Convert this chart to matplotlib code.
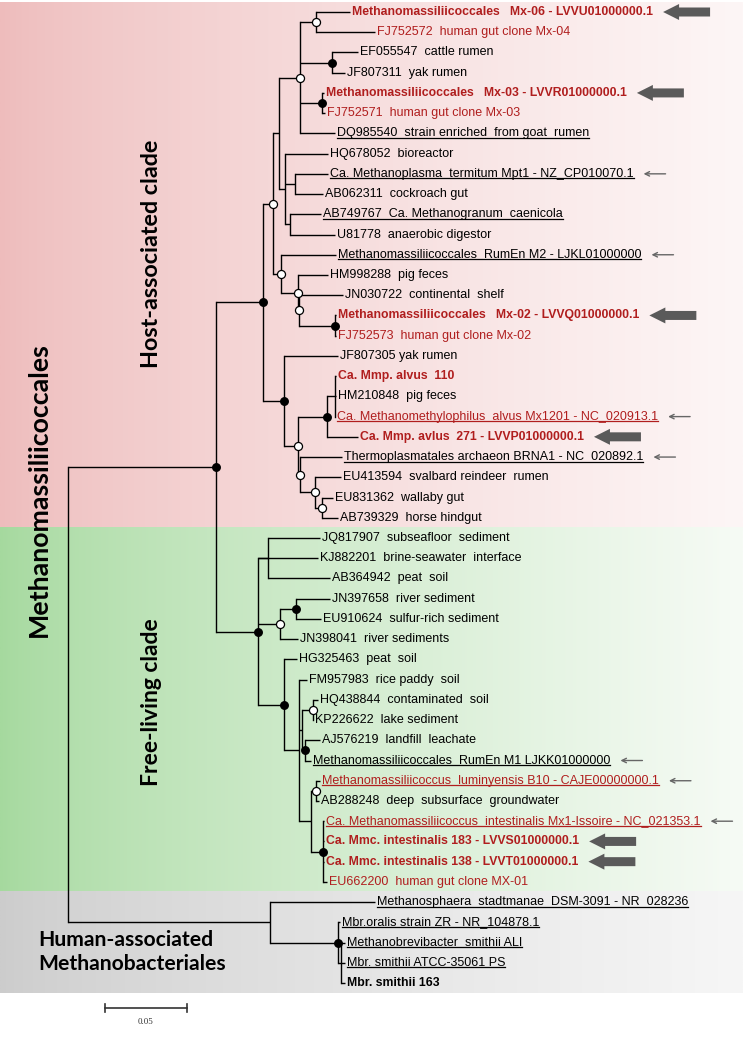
import numpy as np
import matplotlib.pyplot as plt
from matplotlib.patches import FancyArrow
from matplotlib.colors import to_rgb

# --- Листья дерева: подпись, расстояние от корня (замен на сайт), родитель ---
leaf_labels = [
    "Methanomassiliicoccales   Mx-06 - LVVU01000000.1",
    "FJ752572  human gut clone Mx-04",
    "EF055547  cattle rumen",
    "JF807311  yak rumen",
    "Methanomassiliicoccales   Mx-03 - LVVR01000000.1",
    "FJ752571  human gut clone Mx-03",
    "DQ985540  strain enriched  from goat  rumen",
    "HQ678052  bioreactor",
    "Ca. Methanoplasma  termitum Mpt1 - NZ_CP010070.1",
    "AB062311  cockroach gut",
    "AB749767  Ca. Methanogranum  caenicola",
    "U81778  anaerobic digestor",
    "Methanomassiliicoccales  RumEn M2 - LJKL01000000",
    "HM998288  pig feces",
    "JN030722  continental  shelf",
    "Methanomassiliicoccales   Mx-02 - LVVQ01000000.1",
    "FJ752573  human gut clone Mx-02",
    "JF807305 yak rumen",
    "Ca. Mmp. alvus  110",
    "HM210848  pig feces",
    "Ca. Methanomethylophilus  alvus Mx1201 - NC_020913.1",
    "Ca. Mmp. avlus  271 - LVVP01000000.1",
    "Thermoplasmatales archaeon BRNA1 - NC_020892.1",
    "EU413594  svalbard reindeer  rumen",
    "EU831362  wallaby gut",
    "AB739329  horse hindgut",
    "JQ817907  subseafloor  sediment",
    "KJ882201  brine-seawater  interface",
    "AB364942  peat  soil",
    "JN397658  river sediment",
    "EU910624  sulfur-rich sediment",
    "JN398041  river sediments",
    "HG325463  peat  soil",
    "FM957983  rice paddy  soil",
    "HQ438844  contaminated  soil",
    "KP226622  lake sediment",
    "AJ576219  landfill  leachate",
    "Methanomassiliicoccales  RumEn M1 LJKK01000000",
    "Methanomassiliicoccus  luminyensis B10 - CAJE00000000.1",
    "AB288248  deep  subsurface  groundwater",
    "Ca. Methanomassiliicoccus  intestinalis Mx1-Issoire - NC_021353.1",
    "Ca. Mmc. intestinalis 183 - LVVS01000000.1",
    "Ca. Mmc. intestinalis 138 - LVVT01000000.1",
    "EU662200  human gut clone MX-01",
    "Methanosphaera  stadtmanae  DSM-3091 - NR_028236",
    "Mbr.oralis strain ZR - NR_104878.1",
    "Methanobrevibacter  smithii ALI",
    "Mbr. smithii ATCC-35061 PS",
    "Mbr. smithii 163",
]
leaf_depth = [
    0.1720, 0.1872, 0.1768, 0.1689, 0.1561, 0.1567, 0.1628, 0.1585, 0.1585, 0.1555,
    0.1543, 0.1628, 0.1634, 0.1585, 0.1677, 0.1634, 0.1634, 0.1646, 0.1634, 0.1634,
    0.1628, 0.1768, 0.1671, 0.1665, 0.1616, 0.1646, 0.1537, 0.1524, 0.1598, 0.1598,
    0.1543, 0.1402, 0.1396, 0.1457, 0.1524, 0.1494, 0.1537, 0.1482, 0.1537, 0.1530,
    0.1561, 0.1561, 0.1561, 0.1579, 0.1872, 0.1659, 0.1689, 0.1689, 0.1689,
]
leaf_parent = [
    'S', 'S', 'T', 'T', 'U', 'U', 'Q', 'R', 'V', 'V', 'W', 'W', 'D', 'E', 'G', 'H', 'H',
    'I', 'P', 'P', 'P', 'K', 'L', 'M', 'N', 'N', 'X', 'FL', 'X', 'BB', 'BB', 'AA', 'Z',
    'DD', 'OO', 'OO', 'CC', 'CC', 'FF', 'FF', 'GG', 'GG', 'GG', 'GG', 'mbac', 'mbr',
    'JJ', 'JJ', 'JJ',
]
# стиль подписи: n - обычный, u - подчёркнутый, b - жирный, r - красный
leaf_style = [
    'rb', 'r', 'n', 'n', 'rb', 'r', 'u', 'n', 'u', 'n', 'u', 'n', 'u', 'n', 'n', 'rb', 'r',
    'n', 'rb', 'n', 'ru', 'rb', 'u', 'n', 'n', 'n', 'n', 'n', 'n', 'n', 'n', 'n', 'n',
    'n', 'n', 'n', 'n', 'u', 'ru', 'n', 'ru', 'rb', 'rb', 'r', 'u', 'u', 'u', 'u', 'b',
]
# стрелки: 0 - нет, 1 - тонкая, 2 - толстая
leaf_arrow = [
    2, 0, 0, 0, 2, 0, 0, 0, 1, 0, 0, 0, 1, 0, 0, 2, 0, 0, 0, 0, 1, 2, 1, 0, 0, 0,
    0, 0, 0, 0, 0, 0, 0, 0, 0, 0, 0, 1, 1, 0, 1, 2, 2, 0, 0, 0, 0, 0, 0,
]

# --- Внутренние узлы ---
node_names = ['root', 'meth', 'host', 'A', 'B', 'Q', 'S', 'T', 'U', 'R', 'V', 'W',
              'D', 'E', 'G', 'H', 'I', 'J', 'K', 'P', 'L', 'M', 'N',
              'FL', 'X', 'AA', 'BB', 'Z', 'DD', 'II', 'OO', 'CC', 'HH', 'FF', 'GG',
              'mbac', 'mbr', 'JJ']
node_parent = [None, 'root', 'meth', 'host', 'A', 'B', 'Q', 'Q', 'Q', 'B', 'R', 'R',
               'A', 'D', 'E', 'G', 'host', 'I', 'J', 'K', 'J', 'L', 'M',
               'meth', 'FL', 'FL', 'AA', 'FL', 'Z', 'DD', 'II', 'II', 'DD', 'HH', 'HH',
               'root', 'mbac', 'mbr']
node_depth = [0.0, 0.0902, 0.1189, 0.1250, 0.1287, 0.1415, 0.1512, 0.1610, 0.1549,
              0.1323, 0.1384, 0.1354, 0.1299, 0.1402, 0.1409, 0.1628, 0.1317, 0.1402,
              0.1579, 0.1628, 0.1415, 0.1506, 0.1549, 0.1159, 0.1220, 0.1293, 0.1390,
              0.1317, 0.1409, 0.1427, 0.1494, 0.1445, 0.1482, 0.1512, 0.1555,
              0.1232, 0.1646, 0.1665]
# поддержка узла: f - закрашенный кружок, o - пустой кружок
node_support = ['', 'f', 'f', 'o', '', 'o', 'o', 'f', 'f', '', '', '',
                'o', 'o', 'o', 'f', 'f', 'o', 'f', '', 'o', 'o', 'o',
                'f', '', 'o', 'f', 'f', '', '', 'o', 'f', '', 'o', 'f',
                '', 'f', '']

# Клады для цветных полос (номера первого и последнего листа)
clade_ranges = [(0, 25), (26, 43), (44, 48)]
clade_colors = [('#eebcbc', '#fdf6f6'), ('#a5d99e', '#f6fbf5'), ('#cccccc', '#f6f6f6')]

scale_length = 0.05
red = '#b01e1e'

# Масштаб картинки: 0.05 = 82 пикселя, шаг листьев ~20.2 пикселя
W, H = 743, 1039
PX = scale_length / 82.0
ROW = 20.23
X0, Y0 = 68, 12

fig = plt.figure(figsize=(W / 100, H / 100), dpi=100)
ax = fig.add_axes([0, 0, 1, 1])
ax.axis('off')
xmin, xmax = -X0 * PX, (W - X0) * PX
ymax, ymin = (H - Y0) / ROW, -Y0 / ROW

# Фоновые полосы с горизонтальным градиентом
t = np.linspace(0, 1, 300) ** 0.75
for (a, b), (cl, cr) in zip(clade_ranges, clade_colors):
    cl, cr = np.array(to_rgb(cl)), np.array(to_rgb(cr))
    img = cl[None, :] + (cr - cl)[None, :] * t[:, None]
    ax.imshow(img[None, :, :], extent=(xmin, xmax, b + 0.5, a - 0.5),
              aspect='auto', zorder=0, interpolation='bilinear')

# Координаты узлов
pos = {}
children = {n: [] for n in node_names}
for i, p in enumerate(leaf_parent):
    children[p].append(('leaf', i))
    pos[('leaf', i)] = (leaf_depth[i], float(i))
for n, p in zip(node_names, node_parent):
    if p is not None:
        children[p].append(('node', n))
depth = dict(zip(node_names, node_depth))


def node_y(n):
    ys = []
    for kind, c in children[n]:
        ys.append(float(c) if kind == 'leaf' else node_y(c))
    y = (min(ys) + max(ys)) / 2
    pos[('node', n)] = (depth[n], y)
    return y


node_y('root')

lw = 1.0
for n in node_names:
    x, y = pos[('node', n)]
    ys = [pos[c][1] for c in children[n]]
    ax.plot([x, x], [min(ys), max(ys)], color='black', lw=lw, zorder=2,
            solid_capstyle='projecting')
    for c in children[n]:
        cx, cy = pos[c]
        ax.plot([x, cx], [cy, cy], color='black', lw=lw, zorder=2,
                solid_capstyle='butt')

for n, s in zip(node_names, node_support):
    x, y = pos[('node', n)]
    if s == 'f':
        ax.plot(x, y, 'o', ms=5.4, mfc='black', mec='black', zorder=5)
    elif s == 'o':
        ax.plot(x, y, 'o', ms=5.8, mfc='white', mec='black', mew=0.9, zorder=5)

# Подписи листьев
texts = []
for i, lab in enumerate(leaf_labels):
    st = leaf_style[i]
    txt = ax.text(leaf_depth[i] + 2 * PX, i, lab, va='center', ha='left',
                  fontsize=8.85 if 'b' in st else 9.0,
                  family=['Liberation Sans', 'DejaVu Sans'],
                  color=red if 'r' in st else 'black',
                  fontweight='bold' if 'b' in st else 'normal', zorder=4)
    texts.append(txt)

ax.set_xlim(xmin, xmax)
ax.set_ylim(ymax, ymin)

# Подчёркивания и стрелки (по размеру отрисованного текста)
fig.canvas.draw()
rend = fig.canvas.get_renderer()
inv = ax.transData.inverted()
for i, txt in enumerate(texts):
    bb = txt.get_window_extent(rend)
    (x0, yu), (x1, _) = inv.transform([[bb.x0, bb.y0 + 1.5], [bb.x1, bb.y1]])
    col = red if 'r' in leaf_style[i] else 'black'
    if 'u' in leaf_style[i]:
        ax.plot([x0, x1], [yu, yu], color=col, lw=0.9, zorder=4)
    tip = x1 + 10 * PX
    if leaf_arrow[i] == 2:
        ax.add_patch(FancyArrow(tip + 47 * PX, i, -47 * PX, 0, width=9 / ROW,
                                head_width=16 / ROW, head_length=16 * PX,
                                length_includes_head=True, color='#5a5a5a',
                                lw=0, zorder=4))
    elif leaf_arrow[i] == 1:
        ax.annotate('', xy=(tip, i), xytext=(tip + 22 * PX, i),
                    arrowprops=dict(arrowstyle='->', color='#666666', lw=1.0,
                                    mutation_scale=8, shrinkA=0, shrinkB=0))

# Масштабная линейка
sx0 = (105 - X0) * PX
sy = (1008 - Y0) / ROW
ax.plot([sx0, sx0 + scale_length], [sy, sy], color='#333333', lw=1.2)
for sx in (sx0, sx0 + scale_length):
    ax.plot([sx, sx], [sy - 0.2, sy + 0.2], color='#333333', lw=1.2)
ax.text(sx0 + scale_length / 2, sy + 0.7, f'{scale_length:.2f}', ha='center',
        va='center', fontsize=6.5, family='Liberation Serif', color='#333333')

# Названия клад
bold_font = ['Lato', 'DejaVu Sans']
fig.text(39 / W, 1 - 490 / H, 'Methanomassiliicoccales', rotation=90, ha='center',
         va='center', fontsize=19.3, fontweight='bold', family=bold_font)
fig.text(152 / W, 1 - 254 / H, 'Host-associated clade', rotation=90, ha='center',
         va='center', fontsize=16.8, fontweight='bold', family=bold_font)
fig.text(152 / W, 1 - 702 / H, 'Free-living clade', rotation=90, ha='center',
         va='center', fontsize=16.5, fontweight='bold', family=bold_font)
fig.text(38 / W, 1 - 952 / H, 'Human-associated\nMethanobacteriales', ha='left',
         va='center', fontsize=15.2, fontweight='bold', family=bold_font,
         linespacing=1.2)

plt.savefig('out.png', dpi=100)
